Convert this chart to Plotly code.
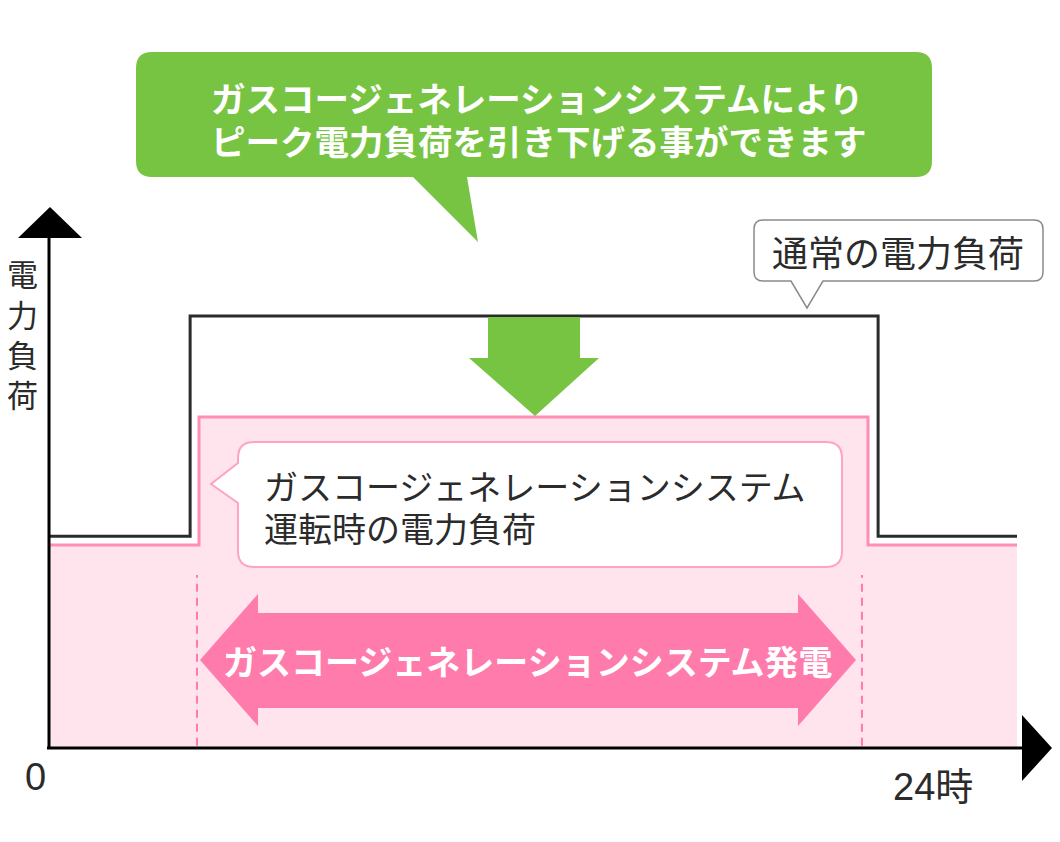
import plotly.graph_objects as go

# ---- data (hours of the day vs. relative electric load) ----
hours_normal = [0, 3.52, 20.56, 24]          # normal load profile step points
load_normal = [49, 100, 49, 49]
hours_cogen = [0, 3.74, 20.31, 24]           # load profile with cogeneration running
load_cogen = [47, 76.6, 47, 47]
generation_hours = [3.69, 20.16]             # cogeneration operating window
x_tick_values = [0, 24]
x_tick_labels = ["0", "24時"]
y_axis_title = "電力負荷"
label_normal = "通常の電力負荷"
label_cogen = ["ガスコージェネレーションシステム", "運転時の電力負荷"]
label_generation = "ガスコージェネレーションシステム発電"
label_message = ["ガスコージェネレーションシステムにより", "ピーク電力負荷を引き下げる事ができます"]

# ---- layout geometry (page-pixel design -> data coordinates) ----
PAGE_W, PAGE_H = 1060, 842
OFF = 8                                  # default body margin of the page
W, H = PAGE_W - OFF, PAGE_H - OFF
PX_X0, PX_PER_H = 48, (1017 - 48) / 24
PX_Y0, PX_PER_U = 748, 4.32


def X(px):
    return (px - PX_X0) / PX_PER_H


def Y(py):
    return (PX_Y0 - py) / PX_PER_U


def P(x, y):
    return f"{X(x):.4f},{Y(y):.4f}"


def poly(points):
    return "M" + " L".join(P(x, y) for x, y in points) + " Z"


JP = "Noto Sans CJK JP"
NUM = "Liberation Sans Narrow, Liberation Sans, " + JP
GREEN = "#77C443"
PINK = "#FF7BAC"
PINK_LINE = "#FF8DB8"
PINK_FILL = "#FFE3ED"
DARK = "#2B2B2B"

fig = go.Figure()

# cogeneration load (filled area)
fig.add_trace(go.Scatter(
    x=hours_cogen, y=load_cogen, mode="lines", line_shape="hv",
    line=dict(color=PINK_LINE, width=3), fill="tozeroy", fillcolor=PINK_FILL,
    hoverinfo="skip", showlegend=False))
# normal load
fig.add_trace(go.Scatter(
    x=hours_normal, y=load_normal, mode="lines", line_shape="hv",
    line=dict(color=DARK, width=3), hoverinfo="skip", showlegend=False))

shapes = []
# generation window dashed lines
for h in generation_hours:
    shapes.append(dict(type="line", xref="x", yref="y", x0=h, x1=h, y0=0.5, y1=Y(575),
                       line=dict(color=PINK, width=2, dash="8px,6px"), layer="above"))

# pink double arrow
shapes.append(dict(type="path", xref="x", yref="y", layer="above",
                   path=poly([(200, 660), (258, 594), (258, 613), (798, 613), (798, 594),
                              (856, 660), (798, 726), (798, 708), (258, 708), (258, 726)]),
                   fillcolor=PINK, line=dict(width=0)))

# green down arrow
shapes.append(dict(type="path", xref="x", yref="y", layer="above",
                   path=poly([(488, 317), (580, 317), (580, 358), (599, 358), (535, 416),
                              (469, 358), (488, 358)]),
                   fillcolor=GREEN, line=dict(width=0)))

# green callout
x0, y0, x1, y1, r = 136, 52, 932, 177, 16
green_path = (f"M{P(x0 + r, y0)} L{P(x1 - r, y0)} Q{P(x1, y0)} {P(x1, y0 + r)} "
              f"L{P(x1, y1 - r)} Q{P(x1, y1)} {P(x1 - r, y1)} L{P(467, y1)} L{P(478, 242)} "
              f"L{P(413, y1)} L{P(x0 + r, y1)} Q{P(x0, y1)} {P(x0, y1 - r)} "
              f"L{P(x0, y0 + r)} Q{P(x0, y0)} {P(x0 + r, y0)} Z")
shapes.append(dict(type="path", xref="x", yref="y", layer="above", path=green_path,
                   fillcolor=GREEN, line=dict(width=0)))

# white callout (normal load)
x0, y0, x1, y1, r = 754, 220, 1043, 281, 9
white_path = (f"M{P(x0 + r, y0)} L{P(x1 - r, y0)} Q{P(x1, y0)} {P(x1, y0 + r)} "
              f"L{P(x1, y1 - r)} Q{P(x1, y1)} {P(x1 - r, y1)} L{P(823, y1)} L{P(807, 308)} "
              f"L{P(791, y1)} L{P(x0 + r, y1)} Q{P(x0, y1)} {P(x0, y1 - r)} "
              f"L{P(x0, y0 + r)} Q{P(x0, y0)} {P(x0 + r, y0)} Z")
shapes.append(dict(type="path", xref="x", yref="y", layer="above", path=white_path,
                   fillcolor="white", line=dict(color="#8A8A8A", width=1.5)))

# pink-bordered callout (cogeneration load)
x0, y0, x1, y1, r = 238, 442, 842, 567, 16
pink_path = (f"M{P(x0 + r, y0)} L{P(x1 - r, y0)} Q{P(x1, y0)} {P(x1, y0 + r)} "
             f"L{P(x1, y1 - r)} Q{P(x1, y1)} {P(x1 - r, y1)} L{P(x0 + r, y1)} "
             f"Q{P(x0, y1)} {P(x0, y1 - r)} L{P(x0, 503)} L{P(211, 484)} L{P(x0, 463)} "
             f"L{P(x0, y0 + r)} Q{P(x0, y0)} {P(x0 + r, y0)} Z")
shapes.append(dict(type="path", xref="x", yref="y", layer="above", path=pink_path,
                   fillcolor="white", line=dict(color="#FFA3C6", width=2)))

# axes with arrowheads
shapes.append(dict(type="line", xref="x", yref="y", x0=X(49), x1=X(49), y0=Y(749), y1=Y(236),
                   line=dict(color="black", width=3), layer="above"))
shapes.append(dict(type="path", xref="x", yref="y", layer="above",
                   path=poly([(18, 238), (82, 238), (50, 207)]),
                   fillcolor="black", line=dict(width=0)))
shapes.append(dict(type="line", xref="x", yref="y", x0=X(47), x1=X(1025), y0=0, y1=0,
                   line=dict(color="black", width=3), layer="above"))
shapes.append(dict(type="path", xref="x", yref="y", layer="above",
                   path=poly([(1022, 715), (1022, 781), (1052, 748)]),
                   fillcolor="black", line=dict(width=0)))


def label(px, py, text, size, color=DARK, anchor="center", weight="normal", family=JP):
    return dict(x=X(px), y=Y(py), xref="x", yref="y", xanchor=anchor, yanchor="middle",
                showarrow=False, text=text, borderpad=0,
                font=dict(family=family, size=size, color=color, weight=weight))


annotations = []
for text, py in zip(label_message, [97, 140]):
    annotations.append(label(210, py, text, 34.5, "white", "left", "bold"))
annotations.append(label(898, 251, label_normal, 36))
for text, py in zip(label_cogen, [485, 527]):
    annotations.append(label(263, py, text, 34, anchor="left"))
annotations.append(label(528, 660, label_generation, 34, "white", weight="bold"))
for ch, py in zip(y_axis_title, [272, 313, 353, 393]):
    annotations.append(label(22, py, ch, 31))
annotations.append(label(PX_X0 + x_tick_values[0] * PX_PER_H - 13, 777,
                         x_tick_labels[0], 38, family=NUM))
annotations.append(label(PX_X0 + x_tick_values[1] * PX_PER_H - 84, 787,
                         x_tick_labels[1], 38, family=NUM))

fig.update_layout(
    width=W, height=H, margin=dict(l=0, r=0, t=0, b=0),
    paper_bgcolor="white", plot_bgcolor="white",
    xaxis=dict(range=[X(OFF), X(PAGE_W)], visible=False, fixedrange=True),
    yaxis=dict(range=[Y(PAGE_H), Y(OFF)], visible=False, fixedrange=True),
    shapes=shapes, annotations=annotations, showlegend=False,
)

fig.write_html("out.html", config={"displayModeBar": False})
